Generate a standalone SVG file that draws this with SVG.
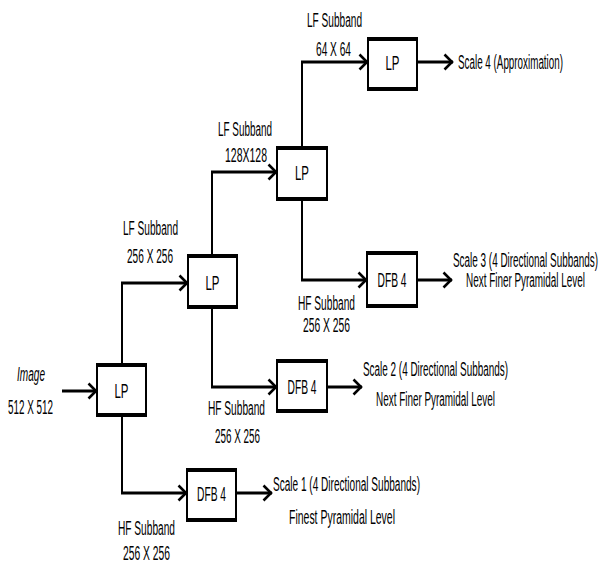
<svg xmlns="http://www.w3.org/2000/svg" width="600" height="563" viewBox="0 0 600 563">
  <style>
    .bg { fill: #ffffff; }
    .box { fill: #ffffff; stroke: #000000; stroke-width: 2; }
    .edge { stroke: #000000; stroke-width: 4; }
    .h { fill: none; stroke: #000000; stroke-width: 3; }
    .v { fill: none; stroke: #000000; stroke-width: 2; }
    .lbl { font-family: "Liberation Sans", Arial, sans-serif; font-size: 20px; fill: #000000; }
    .in { font-family: "Liberation Sans", Arial, sans-serif; font-size: 21px; fill: #000000; text-anchor: middle; }
  </style>
  <defs>
    <marker id="chev" viewBox="-10 -10 12 20" markerWidth="12" markerHeight="20" refX="0" refY="0" orient="auto" markerUnits="userSpaceOnUse">
      <path d="M-8.5,-7.5 L-1,0 L-8.5,7.5" fill="none" stroke="#000000" stroke-width="2.6"/>
    </marker>
  </defs>
  <rect class="bg" x="0" y="0" width="600" height="563"/>

  <g id="connectors">
    <!-- input -->
    <line class="h" x1="62" y1="391" x2="97" y2="391" marker-end="url(#chev)"/>
    <!-- LP1 branches -->
    <line class="v" x1="122" y1="282" x2="122" y2="364"/>
    <line class="v" x1="122" y1="416" x2="122" y2="493"/>
    <polyline class="h" points="121,283 188,283" marker-end="url(#chev)"/>
    <polyline class="h" points="121,493 187,493" marker-end="url(#chev)"/>
    <!-- LP2 branches -->
    <line class="v" x1="212" y1="171" x2="212" y2="255"/>
    <line class="v" x1="212" y1="308" x2="212" y2="388"/>
    <polyline class="h" points="211,172 277,172" marker-end="url(#chev)"/>
    <polyline class="h" points="211,387 277,387" marker-end="url(#chev)"/>
    <!-- LP3 branches -->
    <line class="v" x1="302" y1="61" x2="302" y2="147"/>
    <line class="v" x1="302" y1="200" x2="302" y2="281"/>
    <polyline class="h" points="301,62 368,62" marker-end="url(#chev)"/>
    <polyline class="h" points="301,280 367,280" marker-end="url(#chev)"/>
    <!-- outputs -->
    <line class="h" x1="417" y1="62" x2="453" y2="62" marker-end="url(#chev)"/>
    <line class="h" x1="417" y1="280" x2="452" y2="280" marker-end="url(#chev)"/>
    <line class="h" x1="327" y1="387" x2="362" y2="387" marker-end="url(#chev)"/>
    <line class="h" x1="236" y1="493" x2="272" y2="493" marker-end="url(#chev)"/>
  </g>

  <g id="lp1">
    <rect class="box" x="97" y="364" width="49" height="52"/>
    <line class="edge" x1="96" y1="365" x2="147" y2="365"/>
    <line class="edge" x1="96" y1="415" x2="147" y2="415"/>
    <text class="in" x="121.5" y="398" textLength="14" lengthAdjust="spacingAndGlyphs">LP</text>
  </g>
  <g id="lp2">
    <rect class="box" x="188" y="255" width="49" height="53"/>
    <line class="edge" x1="187" y1="256" x2="238" y2="256"/>
    <line class="edge" x1="187" y1="307" x2="238" y2="307"/>
    <text class="in" x="212.5" y="290" textLength="14" lengthAdjust="spacingAndGlyphs">LP</text>
  </g>
  <g id="lp3">
    <rect class="box" x="277" y="147" width="50" height="53"/>
    <line class="edge" x1="276" y1="148" x2="328" y2="148"/>
    <line class="edge" x1="276" y1="199" x2="328" y2="199"/>
    <text class="in" x="302" y="180" textLength="14" lengthAdjust="spacingAndGlyphs">LP</text>
  </g>
  <g id="lp4">
    <rect class="box" x="368" y="38" width="49" height="52"/>
    <line class="edge" x1="367" y1="39" x2="418" y2="39"/>
    <line class="edge" x1="367" y1="89" x2="418" y2="89"/>
    <text class="in" x="392.5" y="70" textLength="14" lengthAdjust="spacingAndGlyphs">LP</text>
  </g>
  <g id="dfb3">
    <rect class="box" x="367" y="252" width="50" height="55"/>
    <line class="edge" x1="366" y1="253" x2="418" y2="253"/>
    <line class="edge" x1="366" y1="306" x2="418" y2="306"/>
    <text class="in" x="392" y="287" textLength="29" lengthAdjust="spacingAndGlyphs">DFB 4</text>
  </g>
  <g id="dfb2">
    <rect class="box" x="277" y="360" width="50" height="52"/>
    <line class="edge" x1="276" y1="361" x2="328" y2="361"/>
    <line class="edge" x1="276" y1="411" x2="328" y2="411"/>
    <text class="in" x="302" y="394" textLength="29" lengthAdjust="spacingAndGlyphs">DFB 4</text>
  </g>
  <g id="dfb1">
    <rect class="box" x="187" y="469" width="49" height="52"/>
    <line class="edge" x1="186" y1="470" x2="237" y2="470"/>
    <line class="edge" x1="186" y1="520" x2="237" y2="520"/>
    <text class="in" x="211.5" y="501" textLength="29" lengthAdjust="spacingAndGlyphs">DFB 4</text>
  </g>

  <g id="labels">
    <text class="lbl" x="17" y="381" textLength="28" lengthAdjust="spacingAndGlyphs" font-style="italic">Image</text>
    <text class="lbl" x="8" y="414" textLength="45" lengthAdjust="spacingAndGlyphs">512 X 512</text>

    <text class="lbl" x="123" y="235" textLength="55" lengthAdjust="spacingAndGlyphs">LF Subband</text>
    <text class="lbl" x="127" y="263" textLength="46" lengthAdjust="spacingAndGlyphs">256 X 256</text>

    <text class="lbl" x="218" y="136" textLength="54" lengthAdjust="spacingAndGlyphs">LF Subband</text>
    <text class="lbl" x="225" y="162" textLength="42" lengthAdjust="spacingAndGlyphs">128X128</text>

    <text class="lbl" x="307" y="27" textLength="55" lengthAdjust="spacingAndGlyphs">LF Subband</text>
    <text class="lbl" x="316" y="56" textLength="35" lengthAdjust="spacingAndGlyphs">64 X 64</text>

    <text class="lbl" x="458" y="69" textLength="105" lengthAdjust="spacingAndGlyphs">Scale 4 (Approximation)</text>

    <text class="lbl" x="453" y="267" textLength="145" lengthAdjust="spacingAndGlyphs">Scale 3 (4 Directional Subbands)</text>
    <text class="lbl" x="466" y="287" textLength="119" lengthAdjust="spacingAndGlyphs">Next Finer Pyramidal Level</text>
    <text class="lbl" x="298" y="310" textLength="57" lengthAdjust="spacingAndGlyphs">HF Subband</text>
    <text class="lbl" x="303" y="332" textLength="47" lengthAdjust="spacingAndGlyphs">256 X 256</text>

    <text class="lbl" x="363" y="376" textLength="145" lengthAdjust="spacingAndGlyphs">Scale 2 (4 Directional Subbands)</text>
    <text class="lbl" x="376" y="406" textLength="119" lengthAdjust="spacingAndGlyphs">Next Finer Pyramidal Level</text>
    <text class="lbl" x="208" y="415" textLength="57" lengthAdjust="spacingAndGlyphs">HF Subband</text>
    <text class="lbl" x="215" y="443" textLength="45" lengthAdjust="spacingAndGlyphs">256 X 256</text>

    <text class="lbl" x="273" y="491" textLength="147" lengthAdjust="spacingAndGlyphs">Scale 1 (4 Directional Subbands)</text>
    <text class="lbl" x="289" y="524" textLength="106" lengthAdjust="spacingAndGlyphs">Finest Pyramidal Level</text>
    <text class="lbl" x="118" y="535" textLength="57" lengthAdjust="spacingAndGlyphs">HF Subband</text>
    <text class="lbl" x="123" y="560" textLength="47" lengthAdjust="spacingAndGlyphs">256 X 256</text>
  </g>
</svg>
